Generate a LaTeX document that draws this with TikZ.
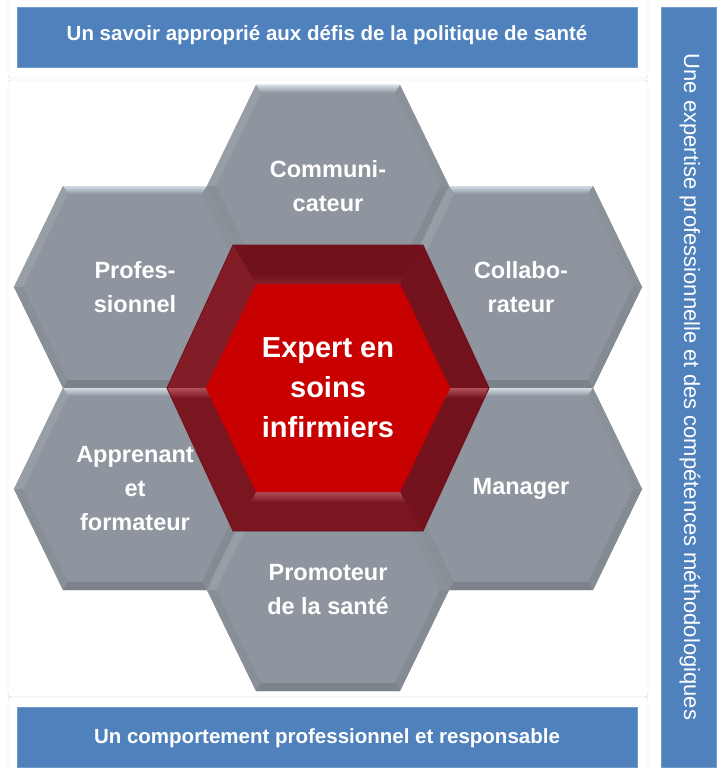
\documentclass[tikz,border=0pt]{standalone}
\usepackage{fontspec}
\setmainfont{Liberation Sans}
\usetikzlibrary{positioning}

\definecolor{barblue}{HTML}{4F81BD}
\definecolor{cardline}{HTML}{D4D4D4}
\definecolor{hexgray}{HTML}{8E959E}
\definecolor{hexlight}{HTML}{D3DCE4}
\definecolor{hexupl}{HTML}{979EA6}
\definecolor{hexupr}{HTML}{8A9199}
\definecolor{hexlowl}{HTML}{888F97}
\definecolor{hexlowr}{HTML}{848B93}
\definecolor{hexdark}{HTML}{7B828A}
\definecolor{framered}{HTML}{7A1620}
\definecolor{frametop}{HTML}{70111B}
\definecolor{frameleft}{HTML}{821C26}
\definecolor{frameright}{HTML}{74131D}
\definecolor{framelight}{HTML}{B0505A}
\definecolor{expertred}{HTML}{C90000}

% one grey cell of the honeycomb, centred on a named coordinate
\newcommand{\graycell}[1]{%
  \begin{scope}[shift={(#1)}]
    \fill[hexgray] (-121,0) -- (-72,-101) -- (72,-101) -- (121,0) -- (72,101) -- (-72,101) -- cycle;
    \shade[top color=hexlight, bottom color=hexgray] (-72,-101) -- (72,-101) -- (67,-93) -- (-67,-93) -- cycle;
    \fill[hexupl] (-121,0) -- (-72,-101) -- (-67,-93) -- (-112,0) -- cycle;
    \fill[hexupr] (121,0) -- (72,-101) -- (67,-93) -- (112,0) -- cycle;
    \fill[hexlowl] (-121,0) -- (-72,101) -- (-67,93) -- (-112,0) -- cycle;
    \fill[hexlowr] (121,0) -- (72,101) -- (67,93) -- (112,0) -- cycle;
    \fill[hexdark] (-72,101) -- (72,101) -- (67,93) -- (-67,93) -- cycle;
  \end{scope}}

\begin{document}
\begin{tikzpicture}[x=1pt, y=-1pt]
    \tikzstyle{hexlabel}=[text=white, align=center, font=\bfseries\fontsize{23.5}{34}\selectfont]
    \tikzstyle{barlabel}=[text=white, anchor=base, font=\bfseries\fontsize{20.5}{24}\selectfont]
    \tikzstyle{card}=[fill=white, draw=cardline, rounded corners=3pt]
    \tikzstyle{bar}=[fill=barblue, draw=barblue!80!white]
    \useasboundingbox (0,0) rectangle (716,773);

    % cards and bars
    \draw[card] (8,80) rectangle (648,697);
    \draw[card] (8,-5) rectangle (648,78);
    \draw[card] (8,697) rectangle (648,780);
    \draw[bar] (17,7) rectangle (637,67);
    \draw[bar] (17,707) rectangle (637,767);
    \draw[bar] (661,7) rectangle (716,767);

    % honeycomb
    \coordinate (expert) at (328,388);
    \coordinate[above=202pt of expert] (comm);
    \coordinate[below=202pt of expert] (promo);
    \coordinate[above left=101pt and 193pt of expert] (prof);
    \coordinate[above right=101pt and 193pt of expert] (collab);
    \coordinate[below left=101pt and 193pt of expert] (appren);
    \coordinate[below right=101pt and 193pt of expert] (manager);
    \foreach \c in {comm,prof,collab,appren,manager,promo}
      \graycell{\c};

    \begin{scope}[shift={(expert)}]
      \fill[framered] (-161,0) -- (-95,-143) -- (95,-143) -- (161,0) -- (95,143) -- (-95,143) -- cycle;
      \fill[frametop] (-95,-143) -- (95,-143) -- (72,-104) -- (-72,-104) -- cycle;
      \fill[frameleft] (-95,-143) -- (-161,0) -- (-122,0) -- (-72,-104) -- cycle;
      \fill[frameright] (95,-143) -- (161,0) -- (122,0) -- (72,-104) -- cycle;
      \fill[frameright] (161,0) -- (95,143) -- (72,104) -- (122,0) -- cycle;
      \shade[top color=frametop, bottom color=framered!80!framelight] (-77,-114) -- (77,-114) -- (72,-104) -- (-72,-104) -- cycle;
      \shade[top color=framelight, bottom color=framered] (-72,104) -- (72,104) -- (77,114) -- (-77,114) -- cycle;
      \shade[top color=framelight, bottom color=framered] (-161,0) -- (-122,0) -- (-117,10) -- (-156,10) -- cycle;
      \shade[top color=framelight, bottom color=frameright] (161,0) -- (122,0) -- (117,10) -- (156,10) -- cycle;
      \draw[frametop, line width=0.8pt] (-161,0) -- (-95,-143) -- (95,-143) -- (161,0) -- (95,143) -- (-95,143) -- cycle;
      \fill[expertred] (-122,0) -- (-72,-104) -- (72,-104) -- (122,0) -- (72,104) -- (-72,104) -- cycle;
    \end{scope}

    % labels
    \node[hexlabel] (comm-t) at (comm) {Communi-\\cateur};
    \node[hexlabel] (prof-t) at (prof) {Profes-\\sionnel};
    \node[hexlabel] (collab-t) at (collab) {Collabo-\\rateur};
    \node[hexlabel] (appren-t) at (appren) {Apprenant\\et\\formateur};
    \node[hexlabel] (manager-t) at (manager) {Manager};
    \node[hexlabel] (promo-t) at (promo) {Promoteur\\de la santé};
    \node[hexlabel, font=\bfseries\fontsize{29}{40}\selectfont] (expert-t) at (expert) {Expert en\\soins\\infirmiers};

    \node[barlabel] (savoir) at (327,41) {Un savoir approprié aux défis de la politique de santé};
    \node[barlabel] (comportement) at (327,743) {Un comportement professionnel et responsable};
    \node[rotate=-90, text=white, font=\fontsize{22}{26}\selectfont] (expertise) at (690,387) {Une expertise professionnelle et des compétences méthodologiques};
\end{tikzpicture}
\end{document}
